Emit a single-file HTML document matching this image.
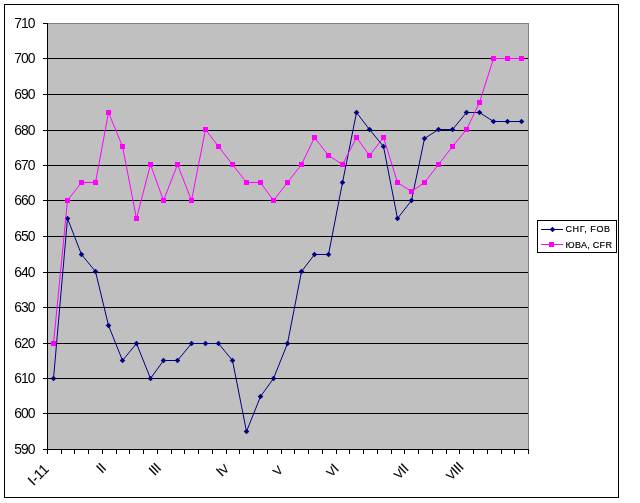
<!DOCTYPE html>
<html><head><meta charset="utf-8"><title>Chart</title>
<style>
html,body{margin:0;padding:0;background:#fff;}
body{width:640px;height:503px;overflow:hidden;}
svg{display:block;}
text{font-family:"Liberation Sans",Arial,sans-serif;fill:#000;}
.ax{font-size:13.9px;letter-spacing:-0.95px;}
.xl{font-size:14px;}
.lg{font-size:9px;stroke:#000;stroke-width:0.2px;}
.xl{stroke:#000;stroke-width:0.12px;}
</style></head><body>
<svg width="640" height="503" viewBox="0 0 640 503">
<rect x="0" y="0" width="640" height="503" fill="#fff"/>
<rect x="4.5" y="4.5" width="614" height="493" fill="#fff" stroke="#000" stroke-width="1" shape-rendering="crispEdges"/>
<rect x="47" y="23" width="482" height="427" fill="#c0c0c0" shape-rendering="crispEdges"/>
<rect x="47.5" y="23.5" width="481" height="426" fill="none" stroke="#808080" stroke-width="1" shape-rendering="crispEdges"/>
<g stroke="#000" stroke-width="1" shape-rendering="crispEdges">
<line x1="47" y1="58.5" x2="528" y2="58.5"/>
<line x1="47" y1="94.5" x2="528" y2="94.5"/>
<line x1="47" y1="130.5" x2="528" y2="130.5"/>
<line x1="47" y1="165.5" x2="528" y2="165.5"/>
<line x1="47" y1="200.5" x2="528" y2="200.5"/>
<line x1="47" y1="236.5" x2="528" y2="236.5"/>
<line x1="47" y1="272.5" x2="528" y2="272.5"/>
<line x1="47" y1="307.5" x2="528" y2="307.5"/>
<line x1="47" y1="343.5" x2="528" y2="343.5"/>
<line x1="47" y1="378.5" x2="528" y2="378.5"/>
<line x1="47" y1="413.5" x2="528" y2="413.5"/>
<line x1="47.5" y1="23" x2="47.5" y2="450"/>
<line x1="47" y1="449.5" x2="529" y2="449.5"/>
<line x1="43" y1="23.5" x2="47" y2="23.5"/>
<line x1="43" y1="58.5" x2="47" y2="58.5"/>
<line x1="43" y1="94.5" x2="47" y2="94.5"/>
<line x1="43" y1="130.5" x2="47" y2="130.5"/>
<line x1="43" y1="165.5" x2="47" y2="165.5"/>
<line x1="43" y1="200.5" x2="47" y2="200.5"/>
<line x1="43" y1="236.5" x2="47" y2="236.5"/>
<line x1="43" y1="272.5" x2="47" y2="272.5"/>
<line x1="43" y1="307.5" x2="47" y2="307.5"/>
<line x1="43" y1="343.5" x2="47" y2="343.5"/>
<line x1="43" y1="378.5" x2="47" y2="378.5"/>
<line x1="43" y1="413.5" x2="47" y2="413.5"/>
<line x1="43" y1="449.5" x2="47" y2="449.5"/>
<line x1="47.5" y1="449" x2="47.5" y2="454"/>
<line x1="61.5" y1="449" x2="61.5" y2="454"/>
<line x1="74.5" y1="449" x2="74.5" y2="454"/>
<line x1="88.5" y1="449" x2="88.5" y2="454"/>
<line x1="102.5" y1="449" x2="102.5" y2="454"/>
<line x1="116.5" y1="449" x2="116.5" y2="454"/>
<line x1="129.5" y1="449" x2="129.5" y2="454"/>
<line x1="143.5" y1="449" x2="143.5" y2="454"/>
<line x1="157.5" y1="449" x2="157.5" y2="454"/>
<line x1="171.5" y1="449" x2="171.5" y2="454"/>
<line x1="184.5" y1="449" x2="184.5" y2="454"/>
<line x1="198.5" y1="449" x2="198.5" y2="454"/>
<line x1="212.5" y1="449" x2="212.5" y2="454"/>
<line x1="226.5" y1="449" x2="226.5" y2="454"/>
<line x1="239.5" y1="449" x2="239.5" y2="454"/>
<line x1="253.5" y1="449" x2="253.5" y2="454"/>
<line x1="267.5" y1="449" x2="267.5" y2="454"/>
<line x1="281.5" y1="449" x2="281.5" y2="454"/>
<line x1="294.5" y1="449" x2="294.5" y2="454"/>
<line x1="308.5" y1="449" x2="308.5" y2="454"/>
<line x1="322.5" y1="449" x2="322.5" y2="454"/>
<line x1="336.5" y1="449" x2="336.5" y2="454"/>
<line x1="349.5" y1="449" x2="349.5" y2="454"/>
<line x1="363.5" y1="449" x2="363.5" y2="454"/>
<line x1="377.5" y1="449" x2="377.5" y2="454"/>
<line x1="391.5" y1="449" x2="391.5" y2="454"/>
<line x1="404.5" y1="449" x2="404.5" y2="454"/>
<line x1="418.5" y1="449" x2="418.5" y2="454"/>
<line x1="432.5" y1="449" x2="432.5" y2="454"/>
<line x1="446.5" y1="449" x2="446.5" y2="454"/>
<line x1="459.5" y1="449" x2="459.5" y2="454"/>
<line x1="473.5" y1="449" x2="473.5" y2="454"/>
<line x1="487.5" y1="449" x2="487.5" y2="454"/>
<line x1="501.5" y1="449" x2="501.5" y2="454"/>
<line x1="514.5" y1="449" x2="514.5" y2="454"/>
<line x1="528.5" y1="449" x2="528.5" y2="454"/>
</g>
<g class="ax" text-anchor="end">
<text x="34.5" y="28.4">710</text>
<text x="34.5" y="63.4">700</text>
<text x="34.5" y="99.4">690</text>
<text x="34.5" y="135.4">680</text>
<text x="34.5" y="170.4">670</text>
<text x="34.5" y="205.4">660</text>
<text x="34.5" y="241.4">650</text>
<text x="34.5" y="277.4">640</text>
<text x="34.5" y="312.4">630</text>
<text x="34.5" y="348.4">620</text>
<text x="34.5" y="383.4">610</text>
<text x="34.5" y="418.4">600</text>
<text x="34.5" y="454.4">590</text>
</g>
<g class="xl" text-anchor="end">
<text transform="translate(49.87,470.00) rotate(-45)" x="0" y="0">I-11</text>
<text transform="translate(106.84,469.00) rotate(-45)" x="0" y="0" letter-spacing="-0.4">II</text>
<text transform="translate(161.81,468.90) rotate(-45)" x="0" y="0" letter-spacing="-0.4">III</text>
<text transform="translate(229.53,469.50) rotate(-45)" x="0" y="0" letter-spacing="-0.4">I<tspan font-size="12">V</tspan></text>
<text transform="translate(283.50,471.00) rotate(-45)" x="0" y="0" letter-spacing="-0.4"><tspan font-size="12">V</tspan></text>
<text transform="translate(339.37,469.70) rotate(-45)" x="0" y="0" letter-spacing="-0.4"><tspan font-size="12">V</tspan>I</text>
<text transform="translate(409.29,469.50) rotate(-45)" x="0" y="0" letter-spacing="-0.4"><tspan font-size="12">V</tspan>II</text>
<text transform="translate(464.16,468.00) rotate(-45)" x="0" y="0" letter-spacing="-0.4"><tspan font-size="12">V</tspan>III</text>
</g>
<polyline points="53.5,378.5 67.5,218.5 81.5,254.5 95.5,271.5 108.5,325.5 122.5,360.5 136.5,343.5 150.5,378.5 163.5,360.5 177.5,360.5 191.5,343.5 205.5,343.5 218.5,343.5 232.5,360.5 246.5,431.5 260.5,396.5 273.5,378.5 287.5,343.5 301.5,271.5 314.5,254.5 328.5,254.5 342.5,182.5 356.5,112.5 369.5,129.5 383.5,146.5 397.5,218.5 411.5,200.5 424.5,138.5 438.5,129.5 452.5,129.5 466.5,112.5 479.5,112.5 493.5,121.5 507.5,121.5 521.5,121.5" fill="none" stroke="#000080" stroke-width="1"/>
<g fill="#000080">
<path d="M53.5 375.7L56.3 378.5L53.5 381.3L50.7 378.5Z"/><path d="M67.5 215.7L70.3 218.5L67.5 221.3L64.7 218.5Z"/><path d="M81.5 251.7L84.3 254.5L81.5 257.3L78.7 254.5Z"/><path d="M95.5 268.7L98.3 271.5L95.5 274.3L92.7 271.5Z"/><path d="M108.5 322.7L111.3 325.5L108.5 328.3L105.7 325.5Z"/><path d="M122.5 357.7L125.3 360.5L122.5 363.3L119.7 360.5Z"/><path d="M136.5 340.7L139.3 343.5L136.5 346.3L133.7 343.5Z"/><path d="M150.5 375.7L153.3 378.5L150.5 381.3L147.7 378.5Z"/><path d="M163.5 357.7L166.3 360.5L163.5 363.3L160.7 360.5Z"/><path d="M177.5 357.7L180.3 360.5L177.5 363.3L174.7 360.5Z"/><path d="M191.5 340.7L194.3 343.5L191.5 346.3L188.7 343.5Z"/><path d="M205.5 340.7L208.3 343.5L205.5 346.3L202.7 343.5Z"/><path d="M218.5 340.7L221.3 343.5L218.5 346.3L215.7 343.5Z"/><path d="M232.5 357.7L235.3 360.5L232.5 363.3L229.7 360.5Z"/><path d="M246.5 428.7L249.3 431.5L246.5 434.3L243.7 431.5Z"/><path d="M260.5 393.7L263.3 396.5L260.5 399.3L257.7 396.5Z"/><path d="M273.5 375.7L276.3 378.5L273.5 381.3L270.7 378.5Z"/><path d="M287.5 340.7L290.3 343.5L287.5 346.3L284.7 343.5Z"/><path d="M301.5 268.7L304.3 271.5L301.5 274.3L298.7 271.5Z"/><path d="M314.5 251.7L317.3 254.5L314.5 257.3L311.7 254.5Z"/><path d="M328.5 251.7L331.3 254.5L328.5 257.3L325.7 254.5Z"/><path d="M342.5 179.7L345.3 182.5L342.5 185.3L339.7 182.5Z"/><path d="M356.5 109.7L359.3 112.5L356.5 115.3L353.7 112.5Z"/><path d="M369.5 126.7L372.3 129.5L369.5 132.3L366.7 129.5Z"/><path d="M383.5 143.7L386.3 146.5L383.5 149.3L380.7 146.5Z"/><path d="M397.5 215.7L400.3 218.5L397.5 221.3L394.7 218.5Z"/><path d="M411.5 197.7L414.3 200.5L411.5 203.3L408.7 200.5Z"/><path d="M424.5 135.7L427.3 138.5L424.5 141.3L421.7 138.5Z"/><path d="M438.5 126.7L441.3 129.5L438.5 132.3L435.7 129.5Z"/><path d="M452.5 126.7L455.3 129.5L452.5 132.3L449.7 129.5Z"/><path d="M466.5 109.7L469.3 112.5L466.5 115.3L463.7 112.5Z"/><path d="M479.5 109.7L482.3 112.5L479.5 115.3L476.7 112.5Z"/><path d="M493.5 118.7L496.3 121.5L493.5 124.3L490.7 121.5Z"/><path d="M507.5 118.7L510.3 121.5L507.5 124.3L504.7 121.5Z"/><path d="M521.5 118.7L524.3 121.5L521.5 124.3L518.7 121.5Z"/>
</g>
<polyline points="53.5,343.5 67.5,200.5 81.5,182.5 95.5,182.5 108.5,112.5 122.5,146.5 136.5,218.5 150.5,164.5 163.5,200.5 177.5,164.5 191.5,200.5 205.5,129.5 218.5,146.5 232.5,164.5 246.5,182.5 260.5,182.5 273.5,200.5 287.5,182.5 301.5,164.5 314.5,137.5 328.5,155.5 342.5,164.5 356.5,137.5 369.5,155.5 383.5,137.5 397.5,182.5 411.5,191.5 424.5,182.5 438.5,164.5 452.5,146.5 466.5,129.5 479.5,102.5 493.5,58.5 507.5,58.5 521.5,58.5" fill="none" stroke="#ff00ff" stroke-width="1"/>
<g fill="#ff00ff">
<rect x="51" y="341" width="5" height="5" shape-rendering="crispEdges"/><rect x="65" y="198" width="5" height="5" shape-rendering="crispEdges"/><rect x="79" y="180" width="5" height="5" shape-rendering="crispEdges"/><rect x="93" y="180" width="5" height="5" shape-rendering="crispEdges"/><rect x="106" y="110" width="5" height="5" shape-rendering="crispEdges"/><rect x="120" y="144" width="5" height="5" shape-rendering="crispEdges"/><rect x="134" y="216" width="5" height="5" shape-rendering="crispEdges"/><rect x="148" y="162" width="5" height="5" shape-rendering="crispEdges"/><rect x="161" y="198" width="5" height="5" shape-rendering="crispEdges"/><rect x="175" y="162" width="5" height="5" shape-rendering="crispEdges"/><rect x="189" y="198" width="5" height="5" shape-rendering="crispEdges"/><rect x="203" y="127" width="5" height="5" shape-rendering="crispEdges"/><rect x="216" y="144" width="5" height="5" shape-rendering="crispEdges"/><rect x="230" y="162" width="5" height="5" shape-rendering="crispEdges"/><rect x="244" y="180" width="5" height="5" shape-rendering="crispEdges"/><rect x="258" y="180" width="5" height="5" shape-rendering="crispEdges"/><rect x="271" y="198" width="5" height="5" shape-rendering="crispEdges"/><rect x="285" y="180" width="5" height="5" shape-rendering="crispEdges"/><rect x="299" y="162" width="5" height="5" shape-rendering="crispEdges"/><rect x="312" y="135" width="5" height="5" shape-rendering="crispEdges"/><rect x="326" y="153" width="5" height="5" shape-rendering="crispEdges"/><rect x="340" y="162" width="5" height="5" shape-rendering="crispEdges"/><rect x="354" y="135" width="5" height="5" shape-rendering="crispEdges"/><rect x="367" y="153" width="5" height="5" shape-rendering="crispEdges"/><rect x="381" y="135" width="5" height="5" shape-rendering="crispEdges"/><rect x="395" y="180" width="5" height="5" shape-rendering="crispEdges"/><rect x="409" y="189" width="5" height="5" shape-rendering="crispEdges"/><rect x="422" y="180" width="5" height="5" shape-rendering="crispEdges"/><rect x="436" y="162" width="5" height="5" shape-rendering="crispEdges"/><rect x="450" y="144" width="5" height="5" shape-rendering="crispEdges"/><rect x="464" y="127" width="5" height="5" shape-rendering="crispEdges"/><rect x="477" y="100" width="5" height="5" shape-rendering="crispEdges"/><rect x="491" y="56" width="5" height="5" shape-rendering="crispEdges"/><rect x="505" y="56" width="5" height="5" shape-rendering="crispEdges"/><rect x="519" y="56" width="5" height="5" shape-rendering="crispEdges"/>
</g>
<rect x="537.5" y="220.5" width="79" height="32" fill="#fff" stroke="#000" stroke-width="1" shape-rendering="crispEdges"/>
<line x1="541" y1="229.5" x2="563" y2="229.5" stroke="#000080" stroke-width="1" shape-rendering="crispEdges"/>
<path d="M552.5 226.7L555.3 229.5L552.5 232.3L549.7 229.5Z" fill="#000080"/>
<line x1="541" y1="244.5" x2="563" y2="244.5" stroke="#ff00ff" stroke-width="1" shape-rendering="crispEdges"/>
<rect x="549" y="242" width="5" height="5" fill="#ff00ff" shape-rendering="crispEdges"/>
<text class="lg" style="letter-spacing:0.62px" x="565.5" y="232">СНГ, FOB</text>
<text class="lg" style="letter-spacing:0.3px" x="565.5" y="247.7">ЮВА, CFR</text>
</svg>
</body></html>
